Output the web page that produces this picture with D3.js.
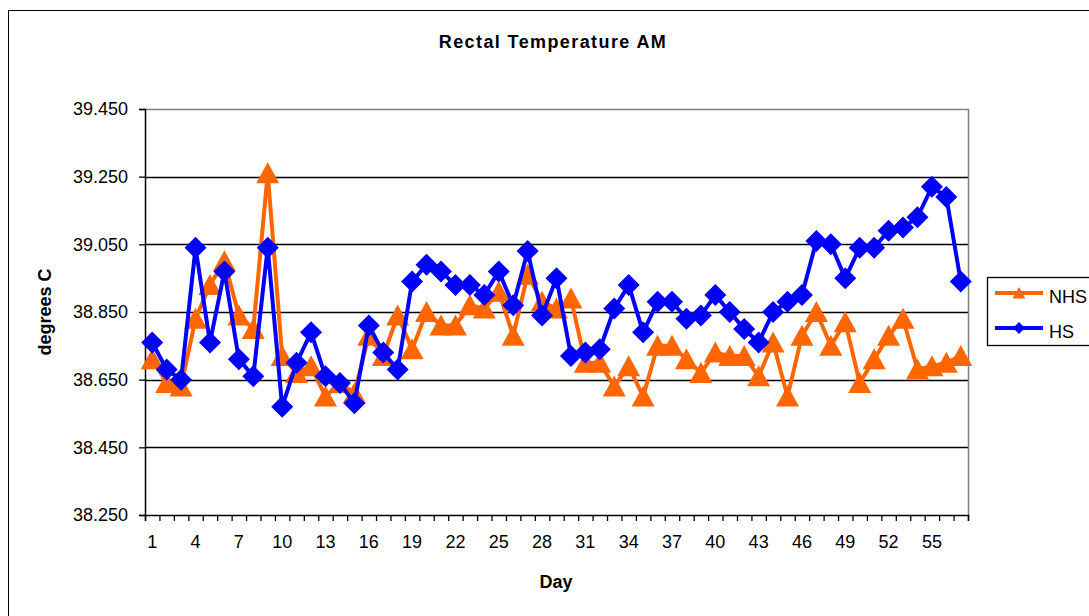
<!DOCTYPE html>
<html>
<head>
<meta charset="utf-8">
<script src="https://cdn.jsdelivr.net/npm/d3@7"></script>
<style>
  html, body { margin: 0; padding: 0; background: #fff; }
  svg { display: block; font-family: Arial, 'Liberation Sans', sans-serif; }
</style>
</head>
<body>
<div id="canvas"></div>
<script>
// day categories
const days = [1, 2, 3, 4, 5, 6, 7, 8, 9, 10, 11, 12, 13, 14, 15, 16, 17, 18, 19, 20,
  21, 22, 23, 24, 25, 26, 27, 28, 29, 30, 31, 32, 33, 34, 35, 36, 37, 38, 39, 40,
  41, 42, 43, 44, 45, 46, 47, 48, 49, 50, 51, 52, 53, 54, 55, 56, 57];
// rectal temperature, not heat stressed
const nhs = [38.71, 38.64, 38.63, 38.83, 38.93, 39.00, 38.84, 38.80, 39.26, 38.72,
  38.67, 38.69, 38.60, 38.64, 38.61, 38.78, 38.72, 38.84, 38.74, 38.85,
  38.81, 38.81, 38.87, 38.86, 38.91, 38.78, 38.96, 38.88, 38.86, 38.89,
  38.70, 38.70, 38.63, 38.69, 38.60, 38.75, 38.75, 38.71, 38.67, 38.73,
  38.72, 38.72, 38.66, 38.76, 38.60, 38.78, 38.85, 38.75, 38.82, 38.64,
  38.71, 38.78, 38.83, 38.68, 38.69, 38.70, 38.72];
// rectal temperature, heat stressed
const hs = [38.76, 38.68, 38.65, 39.04, 38.76, 38.97, 38.71, 38.66, 39.04, 38.57,
  38.70, 38.79, 38.66, 38.64, 38.58, 38.81, 38.73, 38.68, 38.94, 38.99,
  38.97, 38.93, 38.93, 38.90, 38.97, 38.87, 39.03, 38.84, 38.95, 38.72,
  38.73, 38.74, 38.86, 38.93, 38.79, 38.88, 38.88, 38.83, 38.84, 38.90,
  38.85, 38.80, 38.76, 38.85, 38.88, 38.90, 39.06, 39.05, 38.95, 39.04,
  39.04, 39.09, 39.10, 39.13, 39.22, 39.19, 38.94];
const yTicks = [38.25, 38.45, 38.65, 38.85, 39.05, 39.25, 39.45];
const xTickLabels = [1, 4, 7, 10, 13, 16, 19, 22, 25, 28, 31, 34, 37, 40, 43, 46, 49, 52, 55];

const width = 1089;
const height = 616;
const plot = { left: 145, right: 968, top: 109, bottom: 515 };

const svg = d3
  .select('#canvas')
  .append('svg')
  .attr('width', width)
  .attr('height', height);

// chart area border
svg.append('rect')
  .attr('x', 8.5)
  .attr('y', 10.5)
  .attr('width', 1100)
  .attr('height', 640)
  .attr('fill', '#fff')
  .attr('stroke', '#000')
  .attr('stroke-width', 1);

const x = d3.scaleBand().domain(days).range([plot.left, plot.right]);
const xEdge = d3.scaleLinear().domain([0, days.length]).range([plot.left, plot.right]);
const y = d3.scaleLinear().domain([38.25, 39.45]).range([plot.bottom, plot.top]);
const cx = (d) => x(d) + x.bandwidth() / 2;

// gridlines
svg.append('g')
  .selectAll('line')
  .data(yTicks.slice(1, -1))
  .join('line')
  .attr('x1', plot.left)
  .attr('x2', plot.right)
  .attr('y1', (d) => Math.round(y(d)) + 0.5)
  .attr('y2', (d) => Math.round(y(d)) + 0.5)
  .attr('stroke', '#000')
  .attr('stroke-width', 1.3);

// plot area frame (top / right gray)
svg.append('path')
  .attr('d', `M${plot.left},${plot.top + 0.5}H${plot.right + 0.5}V${plot.bottom}`)
  .attr('fill', 'none')
  .attr('stroke', '#808080')
  .attr('stroke-width', 1.5);

// y axis
const yAxis = svg.append('g')
  .attr('transform', `translate(${plot.left},0)`)
  .call(d3.axisLeft(y).tickValues(yTicks).tickFormat(d3.format('.3f')).tickSize(6).tickPadding(11));
yAxis.select('.domain').attr('stroke', '#000').attr('stroke-width', 1.5);
yAxis.selectAll('.tick line').attr('stroke', '#000').attr('stroke-width', 1.3);
yAxis.selectAll('.tick text')
  .attr('font-size', 18)
  .attr('font-family', 'Arial, Liberation Sans, sans-serif')
  .attr('fill', '#000');

// x axis tick marks at category edges
const xAxis = svg.append('g')
  .attr('transform', `translate(0,${plot.bottom})`)
  .call(d3.axisBottom(xEdge).tickValues(d3.range(0, days.length + 1)).tickFormat('').tickSize(6));
xAxis.select('.domain').attr('stroke', '#000').attr('stroke-width', 1.5);
xAxis.selectAll('.tick line').attr('stroke', '#000').attr('stroke-width', 1.3);

// x axis labels
const xLabels = svg.append('g')
  .attr('transform', `translate(0,${plot.bottom})`)
  .call(d3.axisBottom(x).tickValues(xTickLabels).tickSize(0).tickPadding(20));
xLabels.select('.domain').remove();
xLabels.selectAll('.tick text')
  .attr('font-size', 18)
  .attr('font-family', 'Arial, Liberation Sans, sans-serif')
  .attr('fill', '#000');

// titles
svg.append('text')
  .attr('x', 553)
  .attr('y', 48)
  .attr('text-anchor', 'middle')
  .attr('font-size', 18)
  .attr('font-weight', 'bold')
  .attr('letter-spacing', 1.4)
  .text('Rectal Temperature AM');

svg.append('text')
  .attr('transform', 'translate(51,312) rotate(-90)')
  .attr('text-anchor', 'middle')
  .attr('font-size', 18)
  .attr('font-weight', 'bold')
  .text('degrees C');

svg.append('text')
  .attr('x', 556)
  .attr('y', 588)
  .attr('text-anchor', 'middle')
  .attr('font-size', 18)
  .attr('font-weight', 'bold')
  .text('Day');

// markers
const diamond = 'M0,-11L11,0L0,11L-11,0Z';
const triangle = 'M0,-11L11.5,10L-11.5,10Z';

const series = [
  { name: 'NHS', values: nhs, color: '#ff6600', marker: triangle },
  { name: 'HS', values: hs, color: '#0000ff', marker: diamond }
];

const line = d3.line()
  .x((d, i) => cx(days[i]))
  .y((d) => y(d));

series.forEach((s) => {
  const g = svg.append('g');
  g.append('path')
    .attr('d', line(s.values))
    .attr('fill', 'none')
    .attr('stroke', s.color)
    .attr('stroke-width', 4)
    .attr('stroke-linejoin', 'round');
  g.selectAll('path.marker')
    .data(s.values)
    .join('path')
    .attr('class', 'marker')
    .attr('d', s.marker)
    .attr('transform', (d, i) => `translate(${cx(days[i])},${y(d)})`)
    .attr('fill', s.color);
});

// legend
const legend = svg.append('g');
legend.append('rect')
  .attr('x', 987.5)
  .attr('y', 277.5)
  .attr('width', 120)
  .attr('height', 68)
  .attr('fill', '#fff')
  .attr('stroke', '#000')
  .attr('stroke-width', 1.3);

series.forEach((s, i) => {
  const ly = 293 + i * 35;
  legend.append('line')
    .attr('x1', 995)
    .attr('x2', 1043)
    .attr('y1', ly)
    .attr('y2', ly)
    .attr('stroke', s.color)
    .attr('stroke-width', 4);
  legend.append('path')
    .attr('d', s.marker)
    .attr('transform', `translate(1019,${ly}) scale(0.55)`)
    .attr('fill', s.color);
  legend.append('text')
    .attr('x', 1049)
    .attr('y', ly + 10)
    .attr('font-size', 18)
    .text(s.name);
});
</script>
</body>
</html>
